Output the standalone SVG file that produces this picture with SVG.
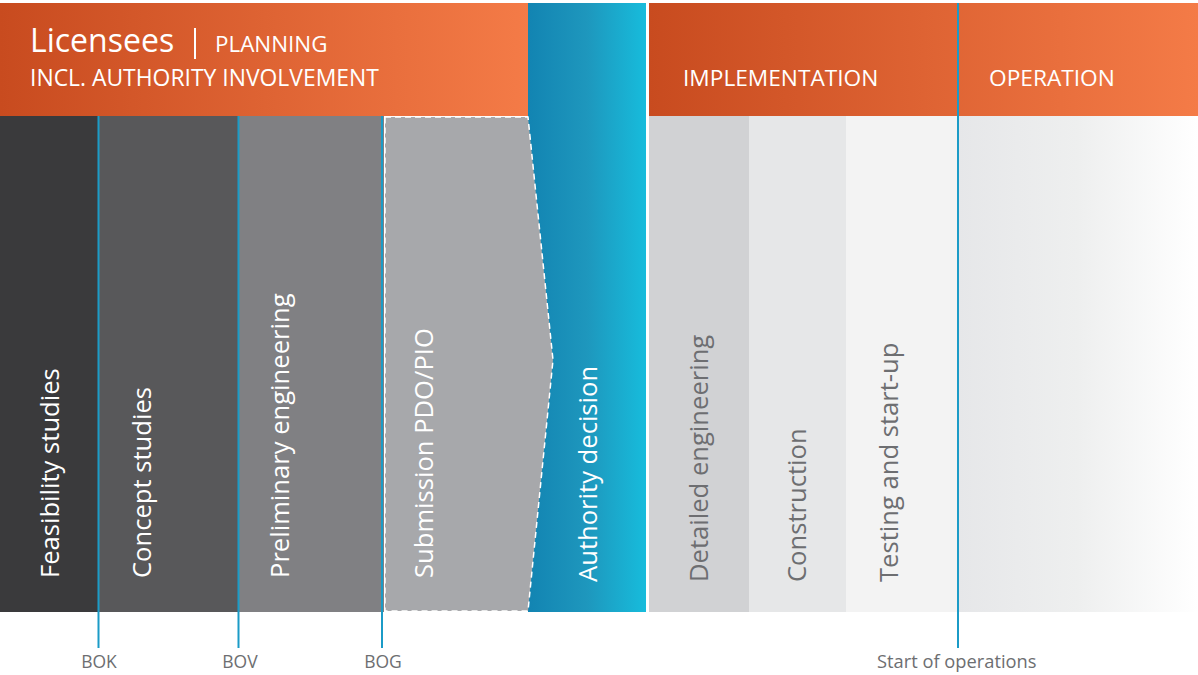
<svg xmlns="http://www.w3.org/2000/svg" width="1198" height="675" viewBox="0 0 1198 675">
<defs>
<linearGradient id="og" x1="0" y1="0" x2="1" y2="0"><stop offset="0" stop-color="#c84b1f"/><stop offset="1" stop-color="#f47b47"/></linearGradient>
<linearGradient id="bg" x1="0" y1="0" x2="1" y2="0"><stop offset="0" stop-color="#1284b2"/><stop offset="0.5" stop-color="#1e97bd"/><stop offset="1" stop-color="#17bcdc"/></linearGradient>
<linearGradient id="gg" x1="0" y1="0" x2="1" y2="0"><stop offset="0" stop-color="#e6e7e9"/><stop offset="0.5" stop-color="#eeefef"/><stop offset="1" stop-color="#ffffff"/></linearGradient>
<style>
.w{fill:#fff;font-family:"Open Sans","Noto Sans",sans-serif}
.v{font-family:"Open Sans","Noto Sans",sans-serif;font-size:25.6px}
.lab{fill:#6d6e71;font-family:"Open Sans","Noto Sans",sans-serif;font-size:17.5px}
.lab2{font-size:18.3px}
.bl{stroke:#1b9bc7;stroke-width:2;fill:none}
</style>
</defs>
<rect width="1198" height="675" fill="#fff"/>
<g id="header-planning">
<rect x="0" y="3" width="529" height="113" fill="url(#og)"/>
<text class="w" x="30" y="52" font-size="32">Licensees</text>
<rect x="194" y="28" width="2" height="31" fill="#fff"/>
<text class="w" x="215" y="52" font-size="22.4">PLANNING</text>
<text class="w" x="30" y="86" font-size="22.9">INCL. AUTHORITY INVOLVEMENT</text>
</g>
<g id="header-implementation">
<rect x="649" y="3" width="549" height="113" fill="url(#og)"/>
<text class="w" x="683" y="86" font-size="22.7">IMPLEMENTATION</text>
<text class="w" x="989" y="86" font-size="22.7">OPERATION</text>
</g>
<g id="feasibility">
<rect x="0" y="116" width="98" height="496" fill="#3a3a3c"/>
<text class="v" fill="#fff" transform="translate(59,578) rotate(-90)">Feasibility studies</text>
</g>
<g id="concept">
<rect x="98" y="116" width="140" height="496" fill="#58585a"/>
<text class="v" fill="#fff" transform="translate(151,578) rotate(-90)">Concept studies</text>
</g>
<g id="preliminary">
<rect x="238" y="116" width="146" height="496" fill="#808083"/>
<text class="v" fill="#fff" transform="translate(289,578) rotate(-90)">Preliminary engineering</text>
</g>
<g id="authority">
<rect x="528" y="3" width="118" height="609" fill="url(#bg)"/>
<text class="v" fill="#fff" transform="translate(597,582) rotate(-90)">Authority decision</text>
</g>
<g id="submission">
<path d="M385,117 H528 L553,360 L528,611 H385 Z" fill="#a7a8ab" stroke="#fff" stroke-width="1.5" stroke-dasharray="6,4"/>
<text class="v" fill="#fff" transform="translate(433,578) rotate(-90)">Submission PDO/PIO</text>
</g>
<g id="detailed">
<rect x="649" y="116" width="100" height="496" fill="#d1d2d4"/>
<text class="v" fill="#6d6e71" transform="translate(708,582) rotate(-90)">Detailed engineering</text>
</g>
<g id="construction">
<rect x="749" y="116" width="97" height="496" fill="#e6e7e8"/>
<text class="v" fill="#6d6e71" transform="translate(806,582) rotate(-90)">Construction</text>
</g>
<g id="testing">
<rect x="846" y="116" width="112" height="496" fill="#f3f3f3"/>
<text class="v" fill="#6d6e71" transform="translate(898,582) rotate(-90)">Testing and start-up</text>
</g>
<g id="operation">
<rect x="958" y="116" width="240" height="496" fill="url(#gg)"/>
</g>
<g id="connectors">
<line class="bl" x1="98.5" y1="116" x2="98.5" y2="648"/>
<line class="bl" x1="238.5" y1="116" x2="238.5" y2="648"/>
<line class="bl" x1="382" y1="116" x2="382" y2="648"/>
<line class="bl" x1="958" y1="3" x2="958" y2="648"/>
</g>
<g id="labels">
<text class="lab" x="99" y="668" text-anchor="middle">BOK</text>
<text class="lab" x="240" y="668" text-anchor="middle">BOV</text>
<text class="lab" x="383" y="668" text-anchor="middle">BOG</text>
<text class="lab lab2" x="877" y="668">Start of operations</text>
</g>
</svg>
